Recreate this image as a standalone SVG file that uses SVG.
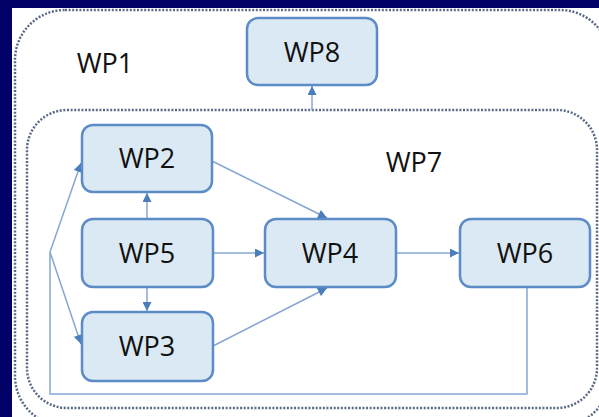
<svg xmlns="http://www.w3.org/2000/svg" width="599" height="417" viewBox="0 0 599 417">
<style>
.box{fill:#dae9f3;stroke:#5b8cc6;stroke-width:2.5}
.lbl{font-family:"Open Sans","Liberation Sans",sans-serif;font-size:27px;fill:#111;text-anchor:middle}
.cont{fill:none;stroke:#5a6a86;stroke-width:2.5;stroke-dasharray:2 1.6}
.con{fill:none;stroke:#86a6d2;stroke-width:1.5}
</style>
<defs>
<marker id="ah" viewBox="0 0 10 10" refX="10" refY="5" markerWidth="10" markerHeight="9" markerUnits="userSpaceOnUse" orient="auto">
<path d="M0,0 L10,5 L0,10 z" fill="#4a7ebb"/>
</marker>
</defs>
<rect width="599" height="417" fill="#000066"/>
<rect x="12" y="8" width="587" height="409" fill="#ffffff"/>
<g id="wp1"><rect class="cont" x="15" y="10" width="595" height="416" rx="50"/>
<text class="lbl" x="105" y="73">WP1</text></g>
<g id="wp7"><rect class="cont" x="27" y="110" width="570" height="298" rx="40"/>
<text class="lbl" x="414" y="172">WP7</text></g>
<g id="connectors">
<line class="con" x1="312" y1="110" x2="312" y2="86" marker-end="url(#ah)"/>
<line class="con" x1="147" y1="219" x2="147" y2="193" marker-end="url(#ah)"/>
<line class="con" x1="147" y1="287" x2="147" y2="311" marker-end="url(#ah)"/>
<line class="con" x1="213" y1="253" x2="264" y2="253" marker-end="url(#ah)"/>
<line class="con" x1="212" y1="161" x2="327" y2="218" marker-end="url(#ah)"/>
<line class="con" x1="213" y1="346" x2="327" y2="288" marker-end="url(#ah)"/>
<line class="con" x1="397" y1="253" x2="459" y2="253" marker-end="url(#ah)"/>
<polyline class="con" points="527,287 527,394 50,394 50,252"/>
<line class="con" x1="50" y1="252" x2="81" y2="163" marker-end="url(#ah)"/>
<line class="con" x1="50" y1="252" x2="81" y2="344" marker-end="url(#ah)"/>
</g>
<g id="wp8"><rect class="box" x="247" y="18" width="130" height="67" rx="11"/><text class="lbl" x="312" y="62">WP8</text></g>
<g id="wp2"><rect class="box" x="82" y="125" width="130" height="67" rx="11"/><text class="lbl" x="147" y="168">WP2</text></g>
<g id="wp5"><rect class="box" x="82" y="219" width="131" height="68" rx="11"/><text class="lbl" x="147" y="263">WP5</text></g>
<g id="wp3"><rect class="box" x="82" y="312" width="131" height="69" rx="11"/><text class="lbl" x="147" y="356">WP3</text></g>
<g id="wp4"><rect class="box" x="265" y="219" width="131" height="68" rx="11"/><text class="lbl" x="330" y="263">WP4</text></g>
<g id="wp6"><rect class="box" x="460" y="219" width="130" height="68" rx="11"/><text class="lbl" x="525" y="263">WP6</text></g>
</svg>
